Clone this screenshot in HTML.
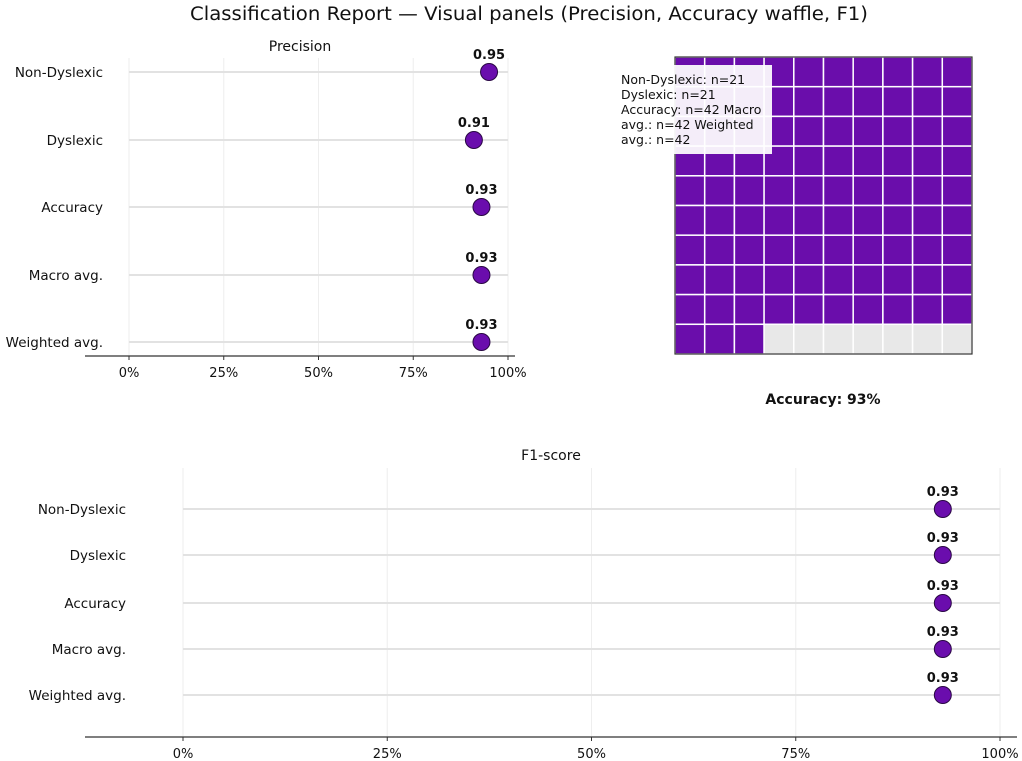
<!DOCTYPE html>
<html><head><meta charset="utf-8"><style>
body{margin:0;background:#fff;}
svg{display:block;font-family:"DejaVu Sans","Liberation Sans",sans-serif;}
</style></head><body>
<svg id="c" width="1022" height="761">
<text x="529" y="20" text-anchor="middle" font-size="18.5" textLength="678" lengthAdjust="spacingAndGlyphs" fill="#111">Classification Report — Visual panels (Precision, Accuracy waffle, F1)</text>
<g id="prec"></g>
<g id="waffle"></g>
<g id="f1"></g>
</svg>
<script>
const categories=["Non-Dyslexic","Dyslexic","Accuracy","Macro avg.","Weighted avg."];
const precisionValues=[0.95,0.91,0.93,0.93,0.93];
const f1Values=[0.93,0.93,0.93,0.93,0.93];
const tickValues=[0,0.25,0.5,0.75,1];
const tickLabels=["0%","25%","50%","75%","100%"];
const accuracyPct=93;
const supportLabels=["Non-Dyslexic: n=21","Dyslexic: n=21","Accuracy: n=42 Macro","avg.: n=42 Weighted","avg.: n=42"];
const NS="http://www.w3.org/2000/svg";
function mk(p,t,a,txt){const e=document.createElementNS(NS,t);for(const k in a)e.setAttribute(k,a[k]);if(txt!=null)e.textContent=txt;p.appendChild(e);return e;}
function dot(g,o){
  const x=v=>o.x0+v*(o.x1-o.x0);
  const y=i=>o.ys[i];
  let t=mk(g,'text',{x:o.tx,y:o.ty,'text-anchor':'middle','font-size':14,fill:'#111'},o.title);
  
  tickValues.forEach((v,i)=>{
    let l=mk(g,'line',{x1:x(v),x2:x(v),y1:o.gtop,y2:o.axisY,stroke:'#eee','stroke-width':1});
    
    mk(g,'line',{x1:x(v),x2:x(v),y1:o.axisY,y2:o.axisY+4,stroke:'#333'});
    let tl=mk(g,'text',{x:x(v),y:o.axisY+21,'text-anchor':'middle','font-size':13,fill:'#111'},tickLabels[i]);
    
  });
  let ax=mk(g,'line',{x1:o.ax0,x2:o.ax1,y1:o.axisY,y2:o.axisY,stroke:'#333','stroke-width':1.2});
  
  categories.forEach((c,i)=>{
    let l=mk(g,'line',{x1:x(0),x2:x(1),y1:y(i),y2:y(i),stroke:'#e2e2e2','stroke-width':2});
    
    let lab=mk(g,'text',{x:o.labX,y:y(i)+5,'text-anchor':'end','font-size':13.5,fill:'#111'},c);
    
    const v=o.vals[i];
    let d=mk(g,'circle',{cx:x(v),cy:y(i),r:8.5,fill:'#6a0dad',stroke:'#2a0845','stroke-width':1});
    
    
    let vl=mk(g,'text',{x:x(v),y:y(i)-13,'text-anchor':'middle','font-size':13,'font-weight':'bold',fill:'#111'},v.toFixed(2));
    
  });
}
dot(document.getElementById('prec'),{x0:129,x1:508,ys:[72,140,207,275,342],axisY:356,ax0:85,ax1:515,gtop:58,labX:103,title:'Precision',tx:300,ty:51,vals:precisionValues});
dot(document.getElementById('f1'),{x0:183,x1:1000,ys:[509,555,603,649,695],axisY:737,ax0:85,ax1:1017,gtop:468,labX:126,title:'F1-score',tx:551,ty:460,vals:f1Values});
const w=document.getElementById('waffle');
const wx=675,wy=57,ws=297,cs=ws/10;
for(let r=0;r<10;r++)for(let c=0;c<10;c++){
  const idx=r*10+c;
  const filled=idx<accuracyPct;
  let rc=mk(w,'rect',{x:wx+c*cs,y:wy+r*cs,width:cs,height:cs,fill:filled?'#6a0dab':'#e8e8e8',stroke:'#fff','stroke-width':1.5});
  
  
}
mk(w,'rect',{x:wx,y:wy,width:ws,height:ws,fill:'none',stroke:'#333','stroke-width':1.2});
let lb=mk(w,'rect',{x:614,y:65,width:158,height:89,fill:'#fff','fill-opacity':0.93});

supportLabels.forEach((s,i)=>{
  let t=mk(w,'text',{x:621,y:84+i*15,'font-size':12.5,fill:'#111'},s);
  
});
let at=mk(w,'text',{x:823,y:404,'text-anchor':'middle','font-size':14,'font-weight':'bold',fill:'#111'},'Accuracy: '+accuracyPct+'%');

</script>
</body></html>
